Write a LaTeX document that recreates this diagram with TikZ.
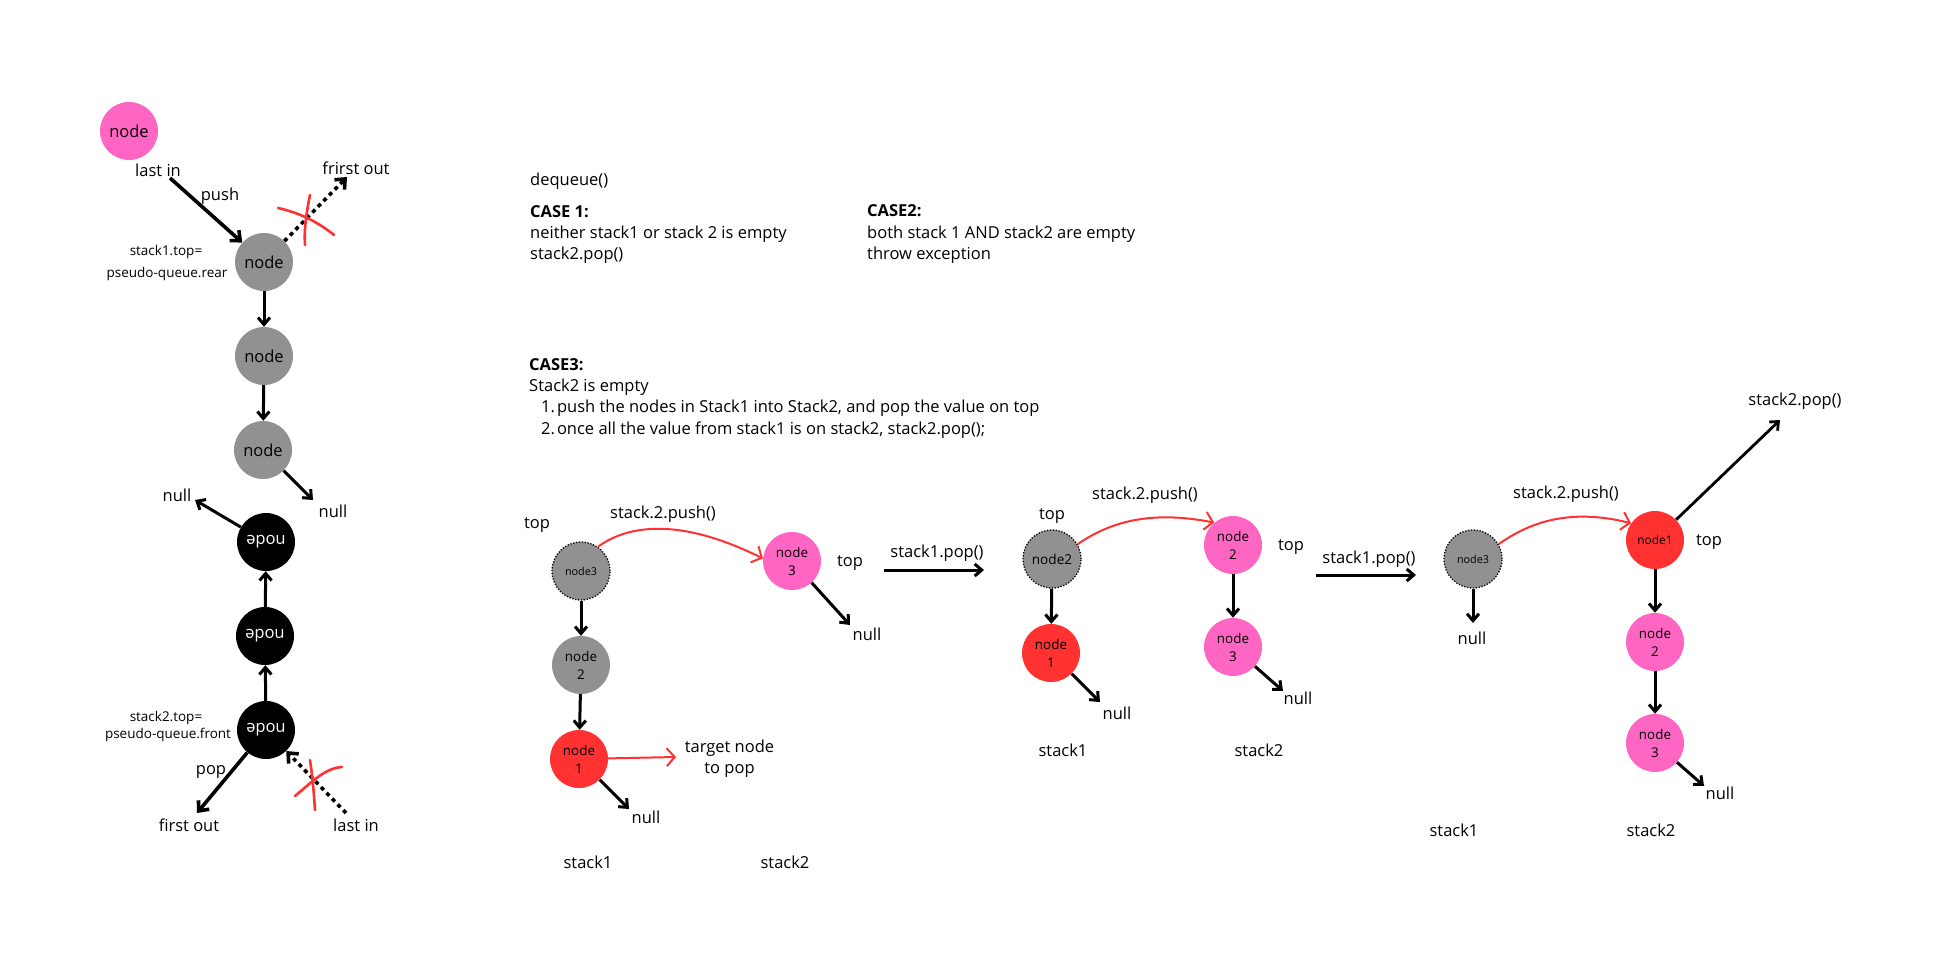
\documentclass[tikz,border=0pt]{standalone}
\usepackage{fontspec}
\setmainfont{Open Sans}
\usetikzlibrary{arrows.meta}
\definecolor{pinkc}{RGB}{255,102,196}
\definecolor{grayc}{RGB}{145,145,145}
\definecolor{redc}{RGB}{255,49,49}
\newcommand\fmain{\fontsize{16.5}{20}\selectfont}
\newcommand\fsmall{\fontsize{13.5}{16}\selectfont}
\newcommand\ftwo{\fontsize{13.4}{18}\selectfont}
\newcommand\ftiny{\fontsize{10.8}{13}\selectfont}
\newcommand\fblock{\fontsize{16.5}{20}\selectfont}
\tikzset{
  base/.style={circle, minimum size=58pt, inner sep=0pt, text=black},
  pinkn/.style={base, fill=pinkc},
  grayn/.style={base, fill=grayc},
  redn/.style={base, fill=redc},
  blackn/.style={base, fill=black, text=white},
  dotn/.style={base, fill=grayc, draw=black, line width=1.3pt, dash pattern=on 1.3pt off 1.6pt},
  arr/.style={draw=black, line width=3pt, -{Straight Barb[length=7pt,width=12pt]}},
  arrw/.style={draw=black, line width=3.6pt, -{Straight Barb[length=8pt,width=14pt]}},
  dotarr/.style={arrw, dash pattern=on 4pt off 4pt},
  redarr/.style={draw=redc, line width=2pt, -{Straight Barb[length=8pt,width=18pt]}},
  redx/.style={draw=redc, line width=2.6pt, line cap=round},
  lbl/.style={inner sep=0pt, font=\fmain},
  blk/.style={inner sep=0pt, font=\fblock, anchor=base west},
  blkb/.style={inner sep=0pt, font=\fblock\bfseries, anchor=base west},
  two/.style={align=center, font=\ftwo},
}
\begin{document}
\begin{tikzpicture}[x=1pt,y=-1pt]
\useasboundingbox (0,0) rectangle (1943,971);
\fill[white] (0,0) rectangle (1943,971);

% ---------- left column ----------
\node[pinkn,font=\fmain] (pl) at (129,131) {node};
\node[lbl] (lastin1) at (158,170) {last in};
\node[lbl] (pushl) at (220,196) {push};
\node[lbl] (fo1) at (356,168) {frirst out};
\node[grayn,font=\fmain] (g1) at (264,262) {node};
\node[grayn,font=\fmain] (g2) at (264,356) {node};
\node[grayn,font=\fmain] (g3) at (263,450) {node};
\node[lbl,font=\fsmall] (s1t) at (166,252) {stack1.top=};
\node[lbl,font=\fsmall] (pqr) at (167,274) {pseudo-queue.rear};
\coordinate (pushs) at (170,178);
\coordinate (fo1e) at (347,177);
\draw[arrw] (pushs) -- (g1);
\draw[dotarr] (g1) -- (fo1e);
\draw[arr] (g1) -- (g2);
\draw[arr] (g2) -- (g3);
\coordinate (nr) at (313,500);
\draw[arr] (g3) -- (nr);
\node[lbl] (nullr) at (333,511) {null};

\node[blackn,font=\fmain,rotate=180] (b1) at (266,542) {node};
\node[blackn,font=\fmain,rotate=180] (b2) at (265,636) {node};
\node[blackn,font=\fmain,rotate=180] (b3) at (266,730) {node};
\coordinate (nl) at (195,500);
\draw[arr] (b1) -- (nl);
\node[lbl] (nulll) at (177,495) {null};
\draw[arr] (b2) -- (b1);
\draw[arr] (b3) -- (b2);
\node[lbl,font=\fsmall] (s2t) at (166,718) {stack2.top=};
\node[lbl,font=\fsmall] (pqf) at (168,735) {pseudo-queue.front};
\coordinate (foe) at (197,813);
\draw[arrw] (b3) -- (foe);
\node[lbl] (popl) at (211,772) {pop};
\node[lbl] (fo2) at (189,825) {first out};
\coordinate (lis) at (346,813);
\draw[dotarr] (lis) -- (b3);
\node[lbl] (lastin2) at (356,825) {last in};

% red crosses
\draw[redx] (278,208) .. controls (300,213) and (318,222) .. (334,235);
\draw[redx] (310,195) .. controls (306,215) and (304,230) .. (305,245);
\draw[redx] (295,796) .. controls (312,782) and (325,768) .. (342,767);
\draw[redx] (310,760) .. controls (313,780) and (314,795) .. (315,810);

% ---------- text block ----------
\node[blk] (dq) at (530,185) {dequeue()};
\node[blkb] (c1) at (530,217.5) {CASE 1:};
\node[blk] (c1a) at (530,238.5) {neither stack1 or stack 2 is empty};
\node[blk] (c1b) at (530,259.5) {stack2.pop()};
\node[blkb] (c2) at (867,216.5) {CASE2:};
\node[blk] (c2a) at (867,238) {both stack 1 AND stack2 are empty};
\node[blk] (c2b) at (867,259) {throw exception};
\node[blkb] (c3) at (529,370.5) {CASE3:};
\node[blk] (c3a) at (529,391.5) {Stack2 is empty};
\node[blk] (c3b) at (541,412.5) {1.\hspace{2pt}push the nodes in Stack1 into Stack2, and pop the value on top};
\node[blk] (c3c) at (541,434) {2.\hspace{2pt}once all the value from stack1 is on stack2, stack2.pop();};

% ---------- panel 1 ----------
\node[lbl] (top1) at (537,525) {top};
\node[dotn,font=\ftiny] (n13) at (581,571) {node3};
\node[grayn,two] (n12) at (581,665) {node\\2};
\node[redn,two] (n11) at (579,759) {node\\1};
\node[pinkn,two] (n23) at (792,561) {node\\3};
\node[lbl] (push1) at (663,514) {stack.2.push()};
\node[lbl] (top1b) at (850,563) {top};
\draw[arr] (n13) -- (n12);
\draw[arr] (n12) -- (n11);
\coordinate (e23) at (850,625);
\draw[arr] (n23) -- (e23);
\node[lbl] (null1a) at (867,634) {null};
\coordinate (e11) at (629,809);
\draw[arr] (n11) -- (e11);
\node[lbl] (null1b) at (646,817) {null};
\draw[redarr] (n13.55) .. controls (625,527) and (675,515) .. (n23.175);
\coordinate (tgt) at (676,757);
\draw[redarr] (n11) -- (tgt);
\node[lbl,align=center,font=\fontsize{16.5}{21}\selectfont] (tnp) at (729.5,758.5) {target node\\to pop};
\node[lbl] (st11) at (588,862) {stack1};
\node[lbl] (st12) at (785,862) {stack2};

% stack1.pop() arrow 1
\coordinate (pa1s) at (884,570);
\coordinate (pa1e) at (984,570);
\draw[arr] (pa1s) -- (pa1e);
\node[lbl] (pop1) at (937,553) {stack1.pop()};

% ---------- panel 2 ----------
\node[lbl] (top2) at (1052,516) {top};
\node[dotn,font=\fontsize{13.6}{16}\selectfont] (m12) at (1052,559) {node2};
\node[redn,two] (m11) at (1051,653) {node\\1};
\node[pinkn,two] (m22) at (1233,545) {node\\2};
\node[pinkn,two] (m23) at (1233,647) {node\\3};
\node[lbl] (push2) at (1145,495) {stack.2.push()};
\node[lbl] (top2b) at (1291,547) {top};
\draw[arr] (m12) -- (m11);
\draw[arr] (m22) -- (m23);
\coordinate (f11) at (1100,702);
\draw[arr] (m11) -- (f11);
\node[lbl] (null2a) at (1117,713) {null};
\coordinate (f23) at (1283,691);
\draw[arr] (m23) -- (f23);
\node[lbl] (null2b) at (1298,698) {null};
\draw[redarr] (m12.30) .. controls (1110,522) and (1150,510) .. (m22.130);
\node[lbl] (st21) at (1063,750) {stack1};
\node[lbl] (st22) at (1259,750) {stack2};

% stack1.pop() arrow 2
\coordinate (pa2s) at (1316,575);
\coordinate (pa2e) at (1416,575);
\draw[arr] (pa2s) -- (pa2e);
\node[lbl] (pop2) at (1369,559) {stack1.pop()};

% ---------- panel 3 ----------
\node[dotn,font=\ftiny] (k13) at (1473,559) {node3};
\coordinate (h13) at (1473,623);
\draw[arr] (k13) -- (h13);
\node[lbl] (null3a) at (1472,638) {null};
\node[lbl] (push3) at (1566,494) {stack.2.push()};
\node[redn,font=\fontsize{11.9}{14}\selectfont] (k21) at (1655,540) {node1};
\node[lbl] (top3) at (1709,542) {top};
\node[pinkn,two] (k22) at (1655,642) {node\\2};
\node[pinkn,two] (k23) at (1655,743) {node\\3};
\draw[arr] (k21) -- (k22);
\draw[arr] (k22) -- (k23);
\coordinate (h23) at (1704,786);
\draw[arr] (k23) -- (h23);
\node[lbl] (null3b) at (1720,793) {null};
\coordinate (s2pe) at (1780,420);
\draw[draw=black, line width=2.8pt, -{Straight Barb[length=7pt,width=12pt]}] (k21) -- (s2pe);
\node[lbl] (s2pop) at (1795,401) {stack2.pop()};
\draw[redarr] (k13.30) .. controls (1530,522) and (1570,508) .. (k21.145);
\node[lbl] (st31) at (1454,830) {stack1};
\node[lbl] (st32) at (1651,830) {stack2};
\end{tikzpicture}
\end{document}
